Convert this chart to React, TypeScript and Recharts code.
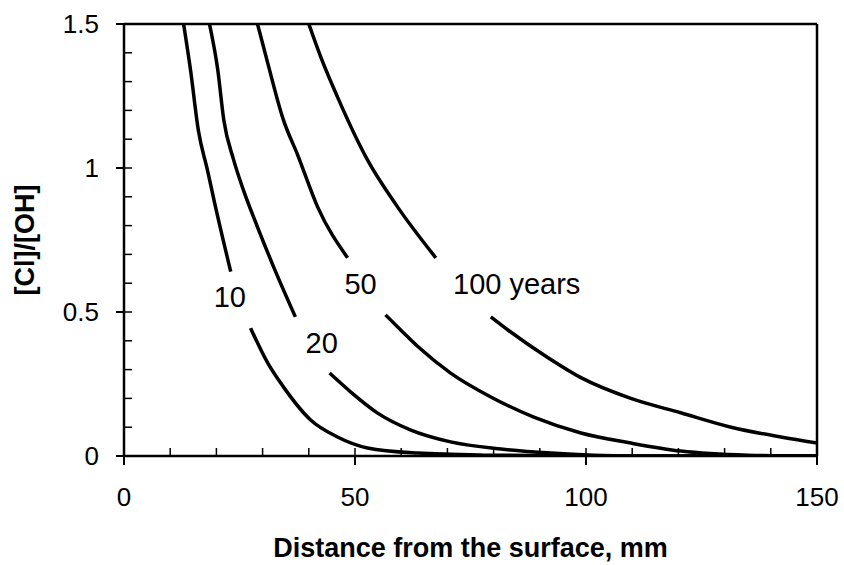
import React from "react";
import { LineChart, Line, XAxis, YAxis, ReferenceLine, ReferenceDot, Label } from "recharts";

// curve points; null marks the gap where the label sits
const x10 = [12.9, 14.4, 16.1, 18.1, 19.6, 23.1, 25, 27.4, 31.1, 34.5, 40.4, 46.2, 52.7, 63.6, 77.9, 100, 150];
const y10 = [1.5, 1.34, 1.13, 0.99, 0.88, 0.64, null, 0.444, 0.323, 0.24, 0.125, 0.066, 0.028, 0.01, 0.003, 0, 0];

const x20 = [18.5, 20.3, 21.6, 23.7, 25.7, 28.9, 32.4, 37.1, 41, 44.5, 49.1, 54.9, 62.1, 70.7, 81.6, 92.4, 110, 150];
const y20 = [1.5, 1.34, 1.167, 1.03, 0.93, 0.795, 0.656, 0.483, null, 0.288, 0.222, 0.149, 0.09, 0.049, 0.024, 0.01, 0, 0];

const x50 = [28.9, 31.1, 34.5, 37.6, 41.9, 48.4, 52.5, 56.6, 59.9, 63.6, 70.7, 79.4, 88.7, 98.9, 109.7, 120.5, 135, 150];
const y50 = [1.5, 1.365, 1.167, 1.045, 0.865, 0.688, null, 0.49, 0.4375, 0.38, 0.288, 0.205, 0.135, 0.08, 0.045, 0.017, 0.003, 0];

const x100 = [40.0, 42.6, 46.2, 52.7, 59.2, 67.5, 73, 79.4, 83.1, 91.7, 98.9, 109.7, 120.5, 131.4, 142.2, 150];
const y100 = [1.5, 1.385, 1.247, 1.028, 0.865, 0.688, null, 0.483, 0.4375, 0.342, 0.272, 0.2, 0.15, 0.1, 0.066, 0.045];

const labelText = ["10", "20", "50", "100 years"];
const labelX = [22.9, 42.8, 51.2, 85.0];
const labelY = [0.552, 0.392, 0.597, 0.597];

const xMajor = [0, 50, 100, 150];
const xMinor = [0, 10, 20, 30, 40, 50, 60, 70, 80, 90, 100, 110, 120, 130, 140, 150];
const yMajor = [0, 0.5, 1, 1.5];
const yMinor = [0, 0.1, 0.2, 0.3, 0.4, 0.5, 0.6, 0.7, 0.8, 0.9, 1, 1.1, 1.2, 1.3, 1.4, 1.5];

const zip = (xs: number[], ys: (number | null)[]) => xs.map((x, i) => ({ x, y: ys[i] }));

const curves = [
  { id: "10", data: zip(x10, y10) },
  { id: "20", data: zip(x20, y20) },
  { id: "50", data: zip(x50, y50) },
  { id: "100", data: zip(x100, y100) },
];

const noLabel = () => "";

export default function App() {
  return (
    <div style={{ position: "absolute", left: 0, top: 0, fontFamily: "'Liberation Sans', Arial, sans-serif" }}>
      <LineChart width={844} height={565} margin={{ top: 24, right: 27, bottom: 0, left: 0 }}>
        <XAxis
          xAxisId="main"
          type="number"
          dataKey="x"
          domain={[0, 150]}
          allowDataOverflow
          ticks={xMajor}
          height={109}
          tickSize={9}
          tickMargin={23}
          axisLine={{ stroke: "#000", strokeWidth: 2.5 }}
          tickLine={{ stroke: "#000", strokeWidth: 2 }}
          tick={{ fill: "#000", fontSize: 26 }}
        >
          <Label
            value="Distance from the surface, mm"
            position="insideBottom"
            offset={8}
            fill="#000"
            fontSize={27}
            fontWeight="bold"
          />
        </XAxis>
        <XAxis
          xAxisId="minor"
          type="number"
          dataKey="x"
          domain={[0, 150]}
          allowDataOverflow
          ticks={xMinor}
          mirror
          tickSize={8}
          tickFormatter={noLabel}
          tick={{ fontSize: 1 }}
          axisLine={false}
          tickLine={{ stroke: "#000", strokeWidth: 1.5 }}
        />
        <YAxis
          yAxisId="main"
          type="number"
          domain={[0, 1.5]}
          allowDataOverflow
          ticks={yMajor}
          width={124}
          tickSize={8}
          tickMargin={17}
          axisLine={{ stroke: "#000", strokeWidth: 2.5 }}
          tickLine={{ stroke: "#000", strokeWidth: 2 }}
          tick={{ fill: "#000", fontSize: 26 }}
        >
          <Label
            value="[Cl]/[OH]"
            angle={-90}
            position="insideLeft"
            offset={24}
            fill="#000"
            fontSize={27}
            fontWeight="bold"
            style={{ textAnchor: "middle" }}
          />
        </YAxis>
        <YAxis
          yAxisId="minor"
          type="number"
          domain={[0, 1.5]}
          allowDataOverflow
          ticks={yMinor}
          mirror
          tickSize={8}
          tickFormatter={noLabel}
          tick={{ fontSize: 1 }}
          axisLine={false}
          tickLine={{ stroke: "#000", strokeWidth: 1.5 }}
        />
        <ReferenceLine xAxisId="main" yAxisId="main" y={1.5} stroke="#000" strokeWidth={2.5} />
        <ReferenceLine xAxisId="main" yAxisId="main" x={150} stroke="#000" strokeWidth={2.5} />
        {curves.map((c) => (
          <Line
            key={c.id}
            xAxisId="main"
            yAxisId="main"
            data={c.data}
            dataKey="y"
            type="monotone"
            stroke="#000"
            strokeWidth={3.5}
            dot={false}
            activeDot={false}
            isAnimationActive={false}
          />
        ))}
        {/* invisible line so the minor axes have data and get drawn */}
        <Line
          xAxisId="minor"
          yAxisId="minor"
          data={curves[3].data}
          dataKey="y"
          stroke="none"
          dot={false}
          activeDot={false}
          isAnimationActive={false}
        />
        {labelText.map((t, i) => (
          <ReferenceDot
            key={t}
            xAxisId="main"
            yAxisId="main"
            x={labelX[i]}
            y={labelY[i]}
            r={0}
            fill="none"
            stroke="none"
            label={{ value: t, position: "center", fontSize: 29, fill: "#000" }}
          />
        ))}
      </LineChart>
    </div>
  );
}
